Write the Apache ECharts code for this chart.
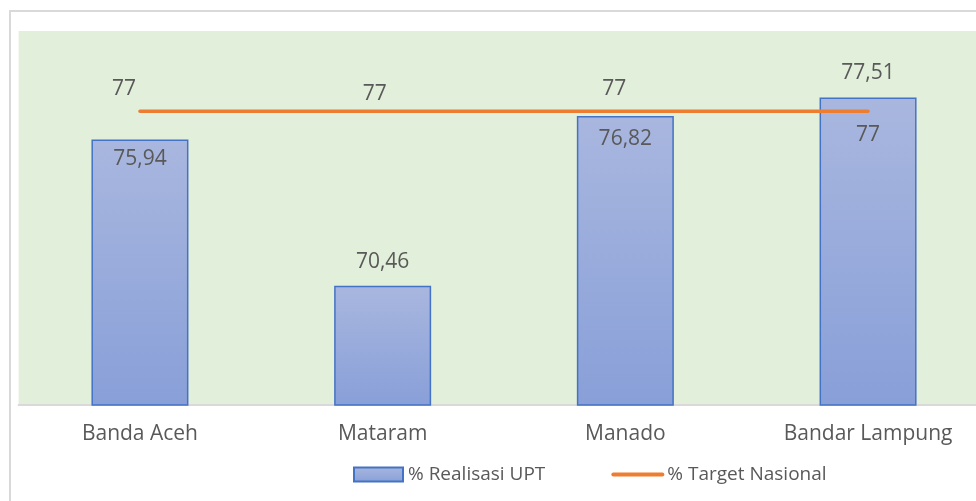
<!DOCTYPE html>
<html>
<head>
<meta charset="utf-8">
<script src="https://cdn.jsdelivr.net/npm/echarts@6/dist/echarts.min.js"></script>
<style>
html, body { margin: 0; padding: 0; background: #fff; }
#chart { width: 976px; height: 501px; }
</style>
</head>
<body>
<div id="chart"></div>
<script>
var categories = ['Banda Aceh', 'Mataram', 'Manado', 'Bandar Lampung'];
var realisasi = [75.94, 70.46, 76.82, 77.51];
var target = [77, 77, 77, 77];

var font = "'Open Sans', 'Noto Sans', sans-serif";

function fmt(v) {
    return String(v).replace('.', ',');
}

// label placement per point, like the original
var barLabelPos = [
    {position: 'insideTop', distance: 9},
    {position: 'top', distance: 13},
    {position: 'insideTop', distance: 13},
    {position: 'top', distance: 14}
];
var lineLabelPos = [
    {position: 'top', offset: [-16, -7]},
    {position: 'top', offset: [-8, -2]},
    {position: 'top', offset: [-11, -7]},
    {position: 'bottom', offset: [0, 8]}
];

var chart = echarts.init(document.getElementById('chart'));

chart.setOption({
    animation: false,
    graphic: [{
        type: 'rect',
        shape: {x: 10, y: 11, width: 1000, height: 600},
        style: {fill: null, stroke: '#d9d9d9', lineWidth: 2},
        z: -10
    }],
    grid: {
        left: 18.6, right: -13.4, top: 31, bottom: 96,
        outerBoundsMode: 'none',
        containLabel: false,
        show: true, backgroundColor: '#e2efda', borderWidth: 0
    },
    legend: {
        bottom: 12,
        left: 348,
        itemWidth: 49,
        itemHeight: 14,
        itemGap: 66,
        textStyle: {fontFamily: font, fontSize: 19, color: '#595959'},
        data: [
            {name: '% Realisasi UPT', icon: 'rect'},
            {name: '% Target Nasional',
             itemStyle: {opacity: 0},
             lineStyle: {color: '#ed7d31', width: 4}}
        ]
    },
    xAxis: {
        type: 'category',
        data: categories,
        axisLine: {lineStyle: {color: '#d9d9d9', width: 2}},
        axisTick: {show: false},
        axisLabel: {fontFamily: font, fontSize: 21, color: '#595959', margin: 19}
    },
    yAxis: {
        type: 'value',
        min: 66, max: 80,
        show: false,
        splitLine: {show: false}
    },
    series: [{
        name: '% Realisasi UPT',
        type: 'bar',
        barWidth: 97,
        data: realisasi.map(function (v, i) {
            return {value: v, label: barLabelPos[i]};
        }),
        itemStyle: {
            borderColor: '#4472c4',
            borderWidth: 1.5,
            color: new echarts.graphic.LinearGradient(0, 0, 0, 1, [
                {offset: 0, color: '#a9b7df'},
                {offset: 1, color: '#889fd8'}
            ])
        },
        label: {
            show: true,
            fontFamily: font, fontSize: 21, color: '#595959',
            formatter: function (p) { return fmt(p.value); }
        }
    }, {
        name: '% Target Nasional',
        type: 'line',
        data: target.map(function (v, i) {
            return {value: v, label: lineLabelPos[i]};
        }),
        symbol: 'circle',
        symbolSize: 0.1,
        showSymbol: true,
        lineStyle: {color: '#ed7d31', width: 3.5, cap: 'round'},
        itemStyle: {color: '#ed7d31'},
        label: {
            show: true,
            fontFamily: font, fontSize: 21, color: '#595959',
            formatter: function (p) { return fmt(p.value); }
        },
        z: 3
    }]
});
</script>
</body>
</html>
